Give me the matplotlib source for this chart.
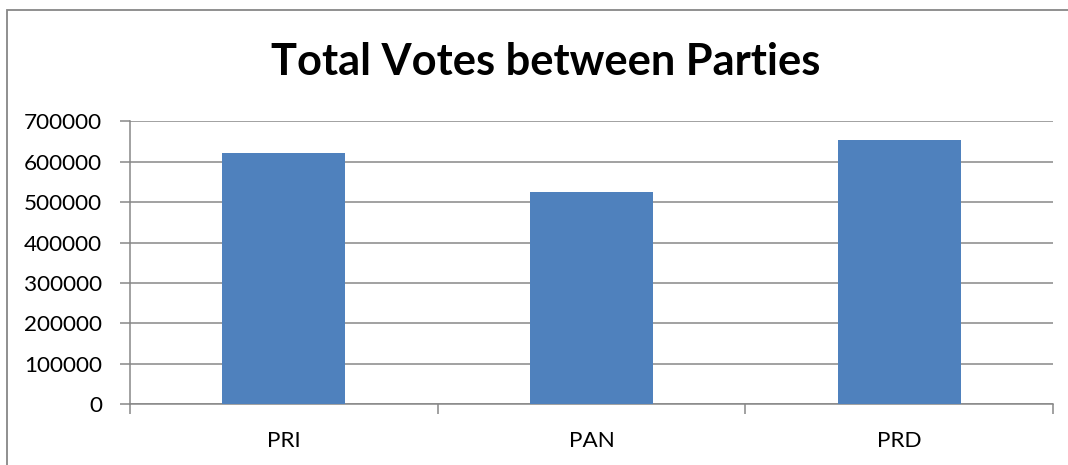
import matplotlib.pyplot as plt
from matplotlib.patches import Rectangle

parties = ["PRI", "PAN", "PRD"]
votes = [621000, 525000, 654500]

plt.rcParams["font.family"] = ["Lato", "DejaVu Sans"]

fig = plt.figure(figsize=(10.68, 4.65), dpi=100)
ax = fig.add_axes([130 / 1068, 1 - 404.3 / 465, 923 / 1068, 283 / 465])

gray = "#878787"
ax.bar(range(len(parties)), votes, width=0.4, color="#4F81BD", zorder=3)

ax.set_xlim(-0.5, len(parties) - 0.5)
ax.set_ylim(0, 700000)
ax.set_yticks(range(0, 700001, 100000))
ax.set_yticklabels([str(v) for v in range(0, 700001, 100000)], fontsize=16.2)
ax.yaxis.grid(True, color=gray, lw=1.1, zorder=0)

# category labels in the middle, tick marks on the boundaries
ax.set_xticks([-0.5, 0.5, 1.5, 2.5])
ax.set_xticklabels([])
ax.set_xticks(range(len(parties)), minor=True)
ax.set_xticklabels(parties, minor=True, fontsize=16.2)
ax.tick_params(axis="x", which="minor", length=0, pad=19)
ax.tick_params(axis="x", which="major", length=7.5, width=1.1, color=gray)
ax.tick_params(axis="y", length=7, width=1.1, color=gray, pad=13)

for s in ["top", "right"]:
    ax.spines[s].set_visible(False)
for s in ["left", "bottom"]:
    ax.spines[s].set_color(gray)
    ax.spines[s].set_linewidth(1.1)

fig.text(546 / 1068, 1 - 75 / 465, "Total Votes between Parties",
         fontsize=31.2, fontweight="bold", ha="center", va="baseline")

# chart area border
fig.patches.append(Rectangle((7 / 1068, -0.1), 1.2, 1.1 - 10 / 465,
                             transform=fig.transFigure, fill=False,
                             edgecolor=gray, lw=1.3))

fig.savefig("out.png", dpi=100)
